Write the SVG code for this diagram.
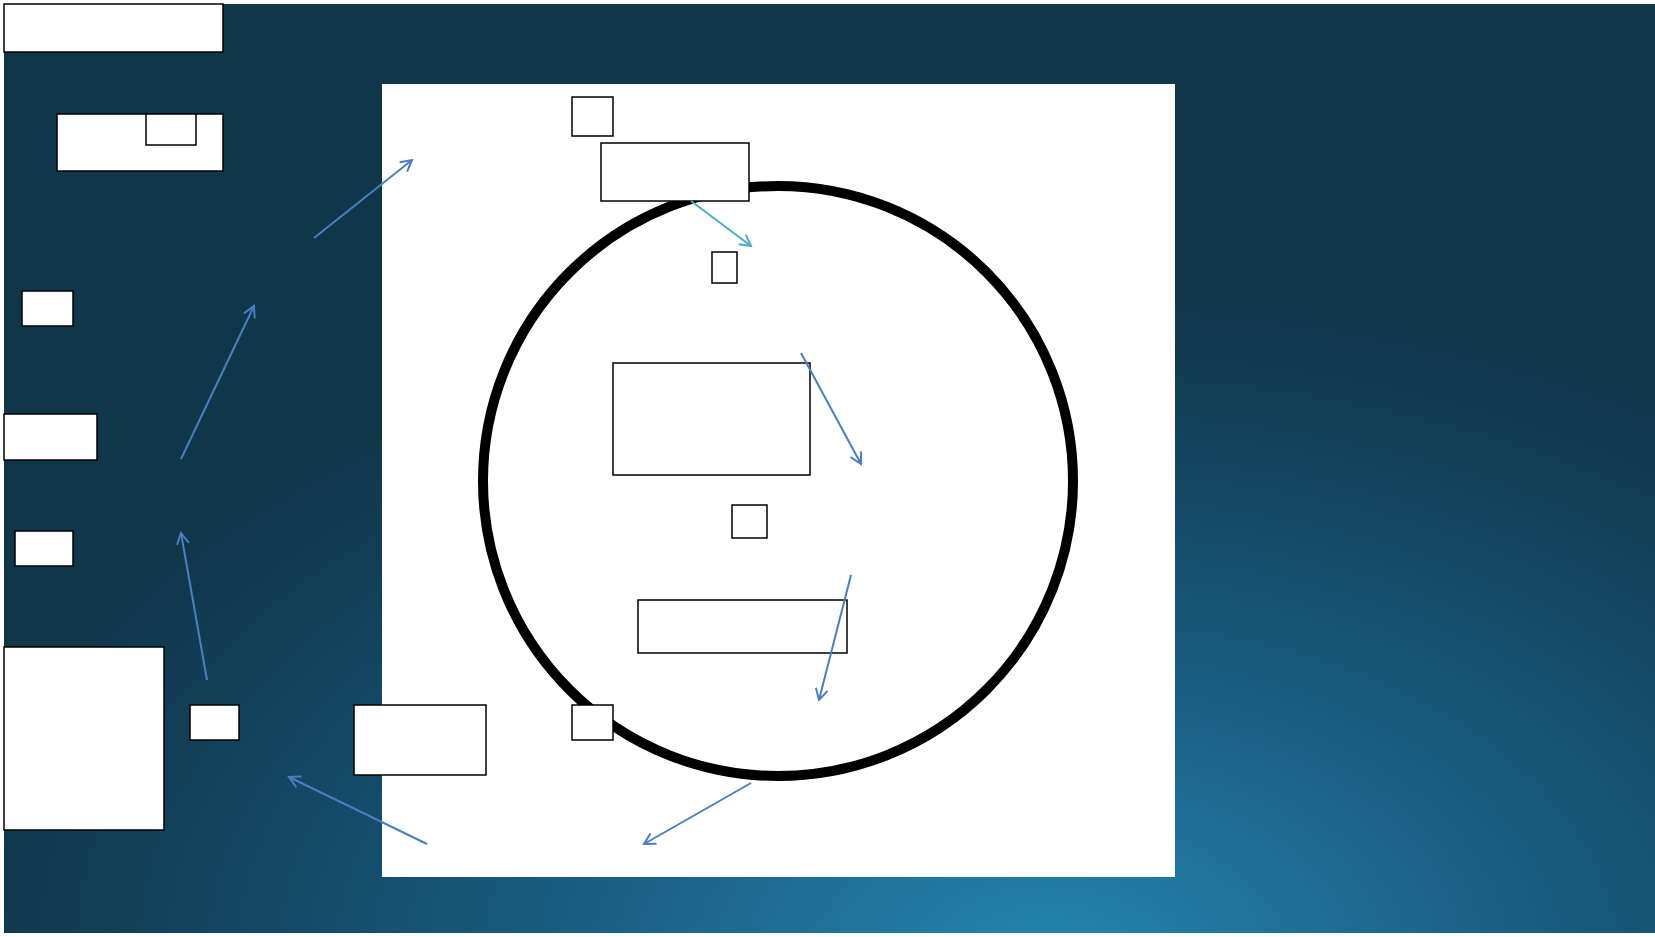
<svg xmlns="http://www.w3.org/2000/svg" width="1655" height="937" viewBox="0 0 1655 937">
<style>
.node{fill:#ffffff;stroke:#000000;stroke-width:1.5}
.conn{fill:none;stroke:#4a7ec2;stroke-width:2}
.conn2{fill:none;stroke:#4bacc6;stroke-width:2}
</style>
<defs>
<radialGradient id="bg" gradientUnits="userSpaceOnUse" cx="1050" cy="960" r="1100" fx="1050" fy="960" gradientTransform="translate(0 384) scale(1 0.6)">
<stop offset="0" stop-color="#2586ae"/>
<stop offset="0.3" stop-color="#1d6990"/>
<stop offset="0.6" stop-color="#165070"/>
<stop offset="1" stop-color="#10364a"/>
</radialGradient>
<marker id="ah" markerWidth="14" markerHeight="14" refX="12" refY="7" orient="auto" markerUnits="userSpaceOnUse">
<path d="M1,1 L12,7 L1,13" fill="none" stroke="#4a7ec2" stroke-width="2"/>
</marker>
<marker id="ah2" markerWidth="14" markerHeight="14" refX="12" refY="7" orient="auto" markerUnits="userSpaceOnUse">
<path d="M1,1 L12,7 L1,13" fill="none" stroke="#4bacc6" stroke-width="2"/>
</marker>
</defs>
<rect x="0" y="0" width="1655" height="937" fill="#ffffff"/>
<rect x="4" y="4" width="1651" height="929" fill="url(#bg)"/>
<rect id="panel" x="382" y="84" width="793" height="793" fill="#ffffff"/>
<circle id="ring" cx="778" cy="481" r="295" fill="none" stroke="#000000" stroke-width="10"/>
<g id="n1"><rect class="node" x="4" y="4" width="219" height="48"/></g>
<g id="n2"><rect class="node" x="57" y="114" width="166" height="57"/></g>
<g id="n3"><rect class="node" x="146" y="114" width="50" height="31"/></g>
<g id="n4"><rect class="node" x="22" y="291" width="51" height="35"/></g>
<g id="n5"><rect class="node" x="4" y="414" width="93" height="46"/></g>
<g id="n6"><rect class="node" x="15" y="531" width="58" height="35"/></g>
<g id="n7"><rect class="node" x="4" y="647" width="160" height="183"/></g>
<g id="n8"><rect class="node" x="190" y="705" width="49" height="35"/></g>
<g id="n9"><rect class="node" x="354" y="705" width="132" height="70"/></g>
<g id="n10"><rect class="node" x="572" y="97" width="41" height="39"/></g>
<g id="n11"><rect class="node" x="601" y="143" width="148" height="58"/></g>
<g id="n12"><rect class="node" x="712" y="252" width="25" height="31"/></g>
<g id="n13"><rect class="node" x="613" y="363" width="197" height="112"/></g>
<g id="n14"><rect class="node" x="732" y="505" width="35" height="33"/></g>
<g id="n15"><rect class="node" x="638" y="600" width="209" height="53"/></g>
<g id="n16"><rect class="node" x="572" y="705" width="41" height="35"/></g>
<g id="connectors">
<line class="conn" x1="314" y1="238" x2="412" y2="160" marker-end="url(#ah)"/>
<line class="conn" x1="181" y1="459" x2="254" y2="306" marker-end="url(#ah)"/>
<line class="conn" x1="207" y1="680" x2="181" y2="533" marker-end="url(#ah)"/>
<line class="conn" x1="427" y1="844" x2="289" y2="777" marker-end="url(#ah)"/>
<line class="conn2" x1="691" y1="201" x2="751" y2="246" marker-end="url(#ah2)"/>
<line class="conn" x1="801" y1="353" x2="861" y2="464" marker-end="url(#ah)"/>
<line class="conn" x1="851" y1="575" x2="819" y2="700" marker-end="url(#ah)"/>
<line class="conn" x1="751" y1="783" x2="644" y2="844" marker-end="url(#ah)"/>
</g>
</svg>
